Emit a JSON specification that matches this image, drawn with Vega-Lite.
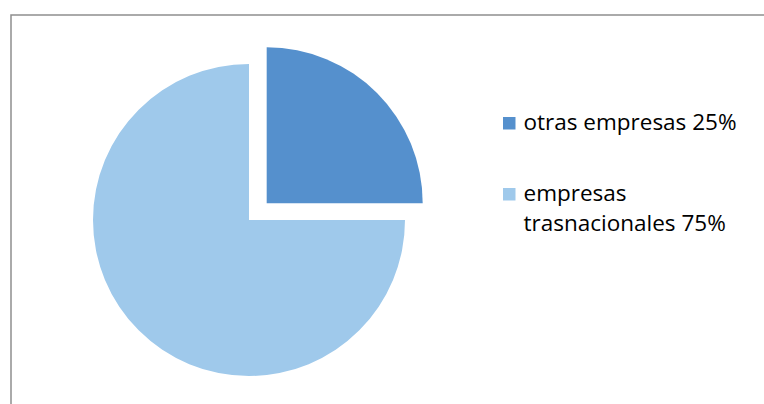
{
  "$schema": "https://vega.github.io/schema/vega-lite/v6.json",
  "autosize": {"type": "none"},
  "width": 753,
  "height": 389,
  "padding": {"left": 11, "top": 15, "right": 0, "bottom": 0},
  "background": "white",
  "view": {"stroke": "#8e8e8e", "strokeWidth": 1.5, "fill": "white", "strokeDash": [753, 1142, 389]},
  "config": {
    "font": "Open Sans",
    "style": {"guide-label": {"lineHeight": 30}}
  },
  "data": {
    "values": [
      {"label": "otras empresas 25%", "value": 25},
      {"label": "empresas trasnacionales 75%", "value": 75}
    ]
  },
  "encoding": {
    "theta": {"field": "value", "type": "quantitative", "stack": true},
    "order": {"field": "value", "type": "quantitative", "sort": "ascending"},
    "color": {
      "field": "label",
      "type": "nominal",
      "sort": null,
      "scale": {
        "domain": ["otras empresas 25%", "empresas trasnacionales 75%"],
        "range": ["#5590CD", "#9FC9EB"]
      },
      "legend": {
        "title": null,
        "orient": "none",
        "legendX": 487,
        "legendY": 97,
        "symbolType": "square",
        "symbolSize": 156,
        "symbolStrokeWidth": 0,
        "symbolOpacity": 1,
        "labelFont": "Open Sans",
        "labelFontSize": 22.5,
        "labelColor": "#000000",
        "labelOffset": 3,
        "labelLimit": 300,
        "rowPadding": 48,
        "labelExpr": "datum.label == 'empresas trasnacionales 75%' ? ['empresas', 'trasnacionales 75%'] : datum.label"
      }
    }
  },
  "layer": [
    {
      "mark": {"type": "arc", "radius": 156, "xOffset": -138.5, "yOffset": 10.5, "stroke": null},
      "encoding": {
        "fillOpacity": {
          "condition": {"test": "datum.label == 'empresas trasnacionales 75%'", "value": 1},
          "value": 0
        }
      }
    },
    {
      "mark": {"type": "arc", "radius": 156, "xOffset": -120.8, "yOffset": -6.2, "stroke": null},
      "encoding": {
        "fillOpacity": {
          "condition": {"test": "datum.label == 'otras empresas 25%'", "value": 1},
          "value": 0
        }
      }
    }
  ]
}
